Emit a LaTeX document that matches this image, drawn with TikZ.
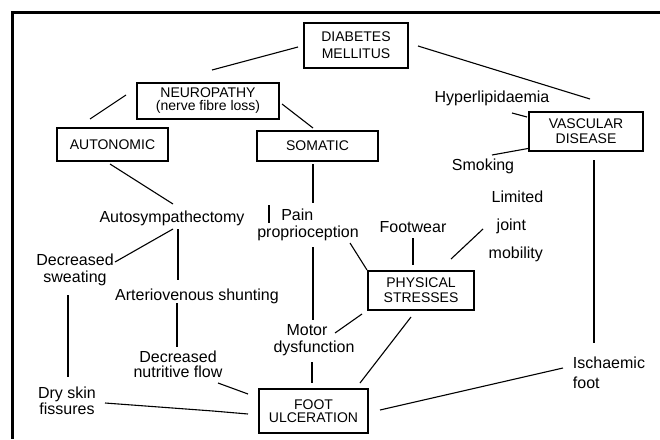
\documentclass[tikz,border=0pt]{standalone}
\usepackage{fontspec}
\newfontfamily\diafont{Liberation Sans}
\newcommand\boxfnt{\diafont\fontsize{14}{15}\selectfont}
\newcommand\lblfnt{\diafont\fontsize{16}{16.5}\selectfont}
\begin{document}
\begin{tikzpicture}[x=1pt,y=-1pt,
  box/.style={draw, line width=1.2pt, font=\boxfnt, align=center, inner sep=0pt},
  lbl/.style={font=\lblfnt, align=center, inner sep=0pt},
  conn/.style={line width=1.1pt},
  frame/.style={line width=2.6pt}]
\useasboundingbox (0,0) rectangle (660,439);
% frame (top and left sides)
\coordinate (fTR) at (660,12.5);
\coordinate (fTL) at (12.5,12.5);
\coordinate (fBL) at (12.5,439);
\draw[frame] (fTR) -- (fTL) -- (fBL);
% boxes
\node[box, minimum width=104pt, minimum height=45pt] (dm) at (356,45.5) {DIABETES\\[2pt]MELLITUS};
\node[box, minimum width=142pt, minimum height=36pt, font=\diafont\fontsize{14}{13}\selectfont] (neu) at (208,101) {NEUROPATHY\\(nerve fibre loss)};
\node[box, minimum width=111pt, minimum height=33pt] (aut) at (112.5,144.5) {AUTONOMIC};
\node[box, minimum width=121pt, minimum height=30pt] (som) at (317.5,146) {SOMATIC};
\node[box, minimum width=114pt, minimum height=39pt] (vas) at (586,131.5) {VASCULAR\\DISEASE};
\node[box, minimum width=106pt, minimum height=39pt] (phy) at (421,290.5) {PHYSICAL\\STRESSES};
\node[box, minimum width=109pt, minimum height=44pt, font=\diafont\fontsize{14}{13.5}\selectfont] (foot) at (313.5,411) {FOOT\\ULCERATION};
% labels
\node[lbl] (hyp) at (492,98) {Hyperlipidaemia};
\node[lbl] (smk) at (483,166) {Smoking};
\node[lbl] (auto) at (172,218) {Autosympathectomy};
\node[lbl, align=left] (pain) at (308,225) {\hspace*{24pt}Pain\\proprioception};
\node[lbl] (fw) at (413,227) {Footwear};
\node[lbl, align=left, font=\diafont\fontsize{16}{28}\selectfont] (ljm) at (516,226) {\hspace*{3pt}Limited\\\hspace*{8pt}joint\\mobility};
\node[lbl, align=left] (motor) at (314,340) {\hspace*{13pt}Motor\\dysfunction};
\node[lbl, align=left, font=\diafont\fontsize{16}{20}\selectfont] (isch) at (609,373) {Ischaemic\\foot};
\node[lbl] (dec) at (75,270) {Decreased\\sweating};
\node[lbl] (arterio) at (197,296) {Arteriovenous shunting};
\node[lbl, font=\diafont\fontsize{16}{15.5}\selectfont] (nutr) at (178,364.5) {Decreased\\nutritive flow};
\node[lbl] (dry) at (67,401) {Dry skin\\fissures};
% connectors
\draw[conn] ([shift={(-58,1.5)}]dm.center) -- ([shift={(4,-31)}]neu.center);
\draw[conn] ([shift={(62,0.5)}]dm.center) -- ([shift={(4,-32.5)}]vas.center);
\draw[conn] ([shift={(-82,-6)}]neu.center) -- ([shift={(-22.5,-25.5)}]aut.center);
\draw[conn] ([shift={(74,3)}]neu.center) -- ([shift={(-4.5,-18)}]som.center);
\draw[conn] ([shift={(-2.5,19.5)}]aut.center) -- ([shift={(1,-14)}]auto.center);
\draw[conn] ([shift={(-4.5,18)}]som.center) -- ([shift={(5,-22)}]pain.center);
\draw[conn] ([shift={(-39,-20)}]pain.center) -- ([shift={(-39,-2)}]pain.center);
\draw[conn] ([shift={(20,15)}]hyp.center) -- ([shift={(-59,-14.5)}]vas.center);
\draw[conn] ([shift={(9,-11)}]smk.center) -- ([shift={(-58,17)}]vas.center);
\draw[conn] ([shift={(8,28.5)}]vas.center) -- ([shift={(-15,-30)}]isch.center);
\draw[conn] ([shift={(-46,-5)}]isch.center) -- ([shift={(66.5,-1)}]foot.center);
\draw[conn] ([shift={(1,11)}]auto.center) -- ([shift={(40,-8)}]dec.center);
\draw[conn] ([shift={(6,11)}]auto.center) -- ([shift={(-19,-16)}]arterio.center);
\draw[conn] ([shift={(-20,7)}]arterio.center) -- ([shift={(-1,-17.5)}]nutr.center);
\draw[conn] ([shift={(40,18.5)}]nutr.center) -- ([shift={(-65.5,-17)}]foot.center);
\draw[conn] ([shift={(-7,25)}]dec.center) -- ([shift={(1,-24)}]dry.center);
\draw[conn] ([shift={(38,2)}]dry.center) -- ([shift={(-100.5,0)}]foot.center) -- ([shift={(-65.5,3)}]foot.center);
\draw[conn] ([shift={(5,22)}]pain.center) -- ([shift={(-1,-20)}]motor.center);
\draw[conn] ([shift={(-2,22)}]motor.center) -- ([shift={(-1.5,-28)}]foot.center);
\draw[conn] ([shift={(42,18)}]pain.center) -- ([shift={(-54,-20.5)}]phy.center);
\draw[conn] ([shift={(0,11)}]fw.center) -- ([shift={(-8,-25.5)}]phy.center);
\draw[conn] ([shift={(-33,3)}]ljm.center) -- ([shift={(30,-31.5)}]phy.center);
\draw[conn] ([shift={(-59,23.5)}]phy.center) -- ([shift={(21,-7)}]motor.center);
\draw[conn] ([shift={(-10,26.5)}]phy.center) -- ([shift={(46.5,-28)}]foot.center);
\end{tikzpicture}
\end{document}
